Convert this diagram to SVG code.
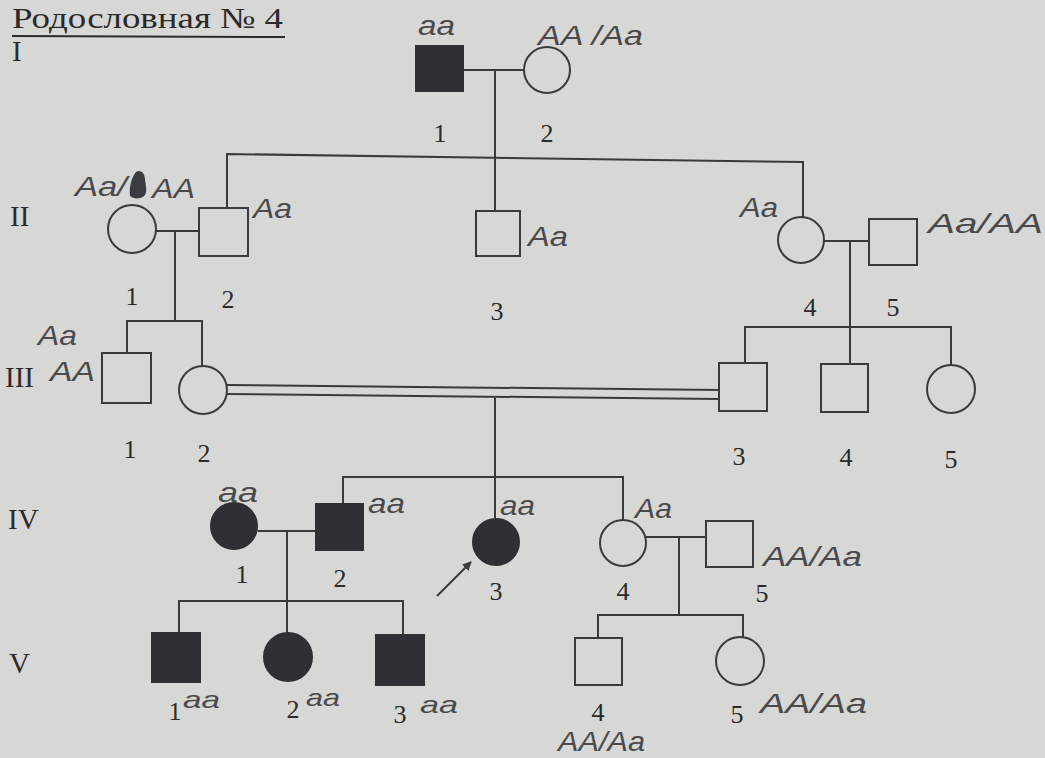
<svg xmlns="http://www.w3.org/2000/svg" width="1045" height="758" viewBox="0 0 1045 758">
<defs>
<style>
.bg{fill:#d7d7d5}
.ln{fill:none;stroke:#3a3a3c;stroke-width:2}
.o{fill:none;stroke:#3a3a3c;stroke-width:2}
.f{fill:#2f2f34;stroke:#2f2f34;stroke-width:2}
.pt{font-family:"Liberation Serif","Times New Roman",serif;fill:#2a2a2c}
.num{font-size:26px;text-anchor:middle}
.gen{font-size:29px}
.hw{font-family:"Liberation Sans",Arial,sans-serif;font-style:italic;fill:#4a4a4c;font-size:28px}
.hs{font-size:24px}
</style>
<marker id="ah" viewBox="0 0 10 10" refX="9" refY="5" markerWidth="9" markerHeight="9" orient="auto" markerUnits="userSpaceOnUse">
<path d="M0,0 L10,5 L0,10 z" fill="#3a3a3c"/>
</marker>
</defs>
<rect class="bg" x="0" y="0" width="1045" height="758"/>

<g id="title">
<text class="pt" x="12" y="28" font-size="29" textLength="271" lengthAdjust="spacingAndGlyphs">Родословная  № 4</text>
<line x1="12" y1="36" x2="285" y2="37" stroke="#2a2a2c" stroke-width="2"/>
</g>

<g id="generations" class="pt gen">
<text x="12" y="61">I</text>
<text x="10" y="226">II</text>
<text x="5" y="387">III</text>
<text x="8" y="529">IV</text>
<text x="9" y="673">V</text>
</g>

<g id="connectors">
<path class="ln" d="M463,70 H524"/>
<path class="ln" d="M495,70 V211"/>
<path class="ln" d="M227,208 V154 L803,162 V217"/>
<path class="ln" d="M156,231 H199"/>
<path class="ln" d="M175,231 V321"/>
<path class="ln" d="M127,353 V321 H202 V367"/>
<path class="ln" d="M824,241 H869"/>
<path class="ln" d="M850,241 V364"/>
<path class="ln" d="M745,363 V327 H951 V365"/>
<path class="ln" d="M227,385 L719,390"/>
<path class="ln" d="M227,394 L719,399"/>
<path class="ln" d="M495,398 V518"/>
<path class="ln" d="M343,504 V477 H623 V520"/>
<path class="ln" d="M258,531 H316"/>
<path class="ln" d="M287,531 V633"/>
<path class="ln" d="M179,633 V601 H403 V635"/>
<path class="ln" d="M646,537 H706"/>
<path class="ln" d="M679,537 V615"/>
<path class="ln" d="M598,638 V615 H743 V637"/>
<line class="ln" x1="437" y1="596" x2="471" y2="562" marker-end="url(#ah)"/>
</g>

<g id="I-1">
<rect class="f" x="416" y="46" width="47" height="45"/>
<text class="pt num" x="440" y="142">1</text>
<text class="hw" x="418" y="35" textLength="37" lengthAdjust="spacingAndGlyphs">aa</text>
</g>
<g id="I-2">
<circle class="o" cx="547" cy="70" r="23"/>
<text class="pt num" x="547" y="142">2</text>
<text class="hw" x="538" y="45" textLength="105" lengthAdjust="spacingAndGlyphs">AA /Aa</text>
</g>

<g id="II-1">
<circle class="o" cx="132" cy="229" r="24"/>
<text class="pt num" x="132" y="305">1</text>
<text class="hw" x="75" y="196" textLength="52" lengthAdjust="spacingAndGlyphs">Aa/</text>
<path d="M130,196 C129,188 131,178 136,172 C141,169 145,173 145,180 C146,187 148,193 143,197 C139,199 133,199 130,196 z" fill="#3c3c40"/>
<text class="hw" x="152" y="198" textLength="43" lengthAdjust="spacingAndGlyphs">AA</text>
</g>
<g id="II-2">
<rect class="o" x="199" y="208" width="49" height="48"/>
<text class="pt num" x="228" y="308">2</text>
<text class="hw" x="253" y="218" textLength="39" lengthAdjust="spacingAndGlyphs">Aa</text>
</g>
<g id="II-3">
<rect class="o" x="476" y="211" width="44" height="45"/>
<text class="pt num" x="497" y="320">3</text>
<text class="hw" x="528" y="246" textLength="40" lengthAdjust="spacingAndGlyphs">Aa</text>
</g>
<g id="II-4">
<circle class="o" cx="801" cy="240" r="23"/>
<text class="pt num" x="810" y="316">4</text>
<text class="hw" x="740" y="217" textLength="38" lengthAdjust="spacingAndGlyphs">Aa</text>
</g>
<g id="II-5">
<rect class="o" x="869" y="219" width="48" height="46"/>
<text class="pt num" x="893" y="316">5</text>
<text class="hw" x="928" y="233" textLength="115" lengthAdjust="spacingAndGlyphs">Aa/AA</text>
</g>

<g id="III-1">
<rect class="o" x="102" y="353" width="49" height="50"/>
<text class="pt num" x="130" y="458">1</text>
<text class="hw" x="38" y="345" textLength="39" lengthAdjust="spacingAndGlyphs">Aa</text>
<text class="hw" x="50" y="381" textLength="45" lengthAdjust="spacingAndGlyphs">AA</text>
</g>
<g id="III-2">
<circle class="o" cx="203" cy="390" r="24"/>
<text class="pt num" x="204" y="462">2</text>
</g>
<g id="III-3">
<rect class="o" x="719" y="363" width="48" height="48"/>
<text class="pt num" x="739" y="465">3</text>
</g>
<g id="III-4">
<rect class="o" x="821" y="364" width="47" height="48"/>
<text class="pt num" x="846" y="466">4</text>
</g>
<g id="III-5">
<circle class="o" cx="951" cy="389" r="24"/>
<text class="pt num" x="951" y="468">5</text>
</g>

<g id="IV-1">
<circle class="f" cx="234" cy="526" r="23"/>
<text class="pt num" x="242" y="583">1</text>
<text class="hw" x="218" y="502" textLength="40" lengthAdjust="spacingAndGlyphs">aa</text>
</g>
<g id="IV-2">
<rect class="f" x="316" y="504" width="47" height="46"/>
<text class="pt num" x="340" y="587">2</text>
<text class="hw" x="368" y="513" textLength="37" lengthAdjust="spacingAndGlyphs">aa</text>
</g>
<g id="IV-3">
<circle class="f" cx="496" cy="542" r="23"/>
<text class="pt num" x="496" y="600">3</text>
<text class="hw" x="500" y="515" textLength="35" lengthAdjust="spacingAndGlyphs">aa</text>
</g>
<g id="IV-4">
<circle class="o" cx="623" cy="543" r="23"/>
<text class="pt num" x="623" y="600">4</text>
<text class="hw" x="635" y="518" textLength="37" lengthAdjust="spacingAndGlyphs">Aa</text>
</g>
<g id="IV-5">
<rect class="o" x="706" y="521" width="47" height="46"/>
<text class="pt num" x="762" y="602">5</text>
<text class="hw" x="763" y="566" textLength="99" lengthAdjust="spacingAndGlyphs">AA/Aa</text>
</g>

<g id="V-1">
<rect class="f" x="152" y="633" width="48" height="49"/>
<text class="pt num" x="175" y="720">1</text>
<text class="hw hs" x="183" y="708" textLength="37" lengthAdjust="spacingAndGlyphs">aa</text>
</g>
<g id="V-2">
<circle class="f" cx="288" cy="657" r="24"/>
<text class="pt num" x="293" y="718">2</text>
<text class="hw hs" x="306" y="706" textLength="34" lengthAdjust="spacingAndGlyphs">aa</text>
</g>
<g id="V-3">
<rect class="f" x="376" y="635" width="48" height="50"/>
<text class="pt num" x="400" y="723">3</text>
<text class="hw hs" x="420" y="713" textLength="38" lengthAdjust="spacingAndGlyphs">aa</text>
</g>
<g id="V-4">
<rect class="o" x="575" y="638" width="47" height="47"/>
<text class="pt num" x="598" y="721">4</text>
<text class="hw" x="558" y="751" font-size="26" textLength="87" lengthAdjust="spacingAndGlyphs">AA/Aa</text>
</g>
<g id="V-5">
<circle class="o" cx="740" cy="661" r="24"/>
<text class="pt num" x="737" y="723">5</text>
<text class="hw" x="760" y="713" textLength="107" lengthAdjust="spacingAndGlyphs">AA/Aa</text>
</g>
</svg>
